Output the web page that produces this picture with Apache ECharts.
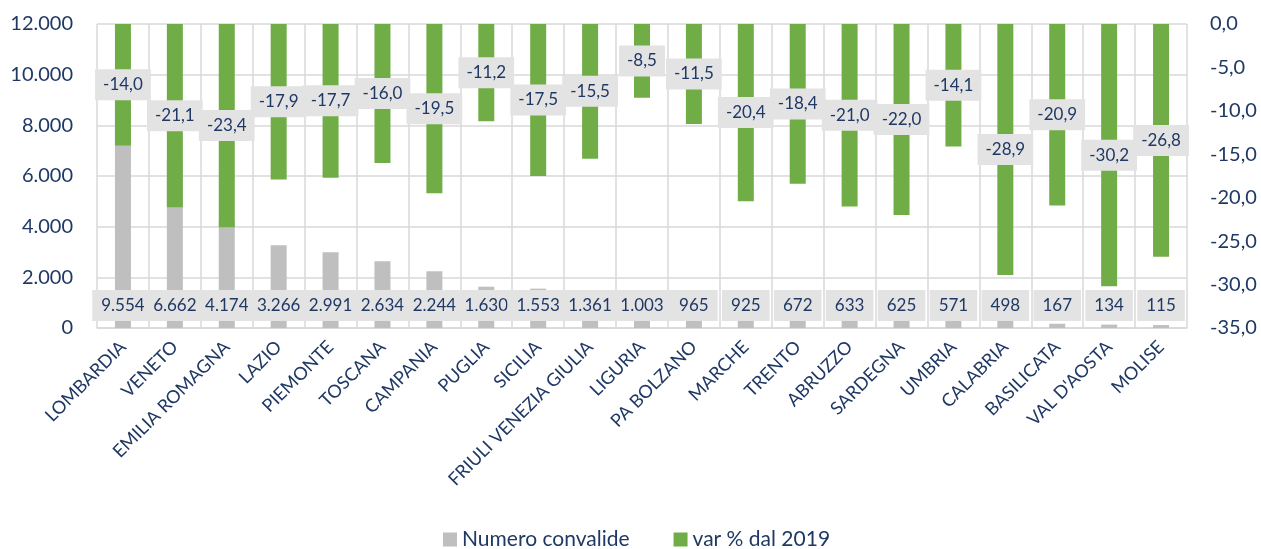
<!DOCTYPE html>
<html>
<head>
<meta charset="utf-8">
<script src="https://cdn.jsdelivr.net/npm/echarts@6/dist/echarts.min.js"></script>
<style>
html,body{margin:0;padding:0;background:#fff;}
#c{width:1261px;height:549px;}
</style>
</head>
<body>
<div id="c"></div>
<script>
const categories = ["LOMBARDIA","VENETO","EMILIA ROMAGNA","LAZIO","PIEMONTE","TOSCANA","CAMPANIA","PUGLIA","SICILIA","FRIULI VENEZIA GIULIA","LIGURIA","PA BOLZANO","MARCHE","TRENTO","ABRUZZO","SARDEGNA","UMBRIA","CALABRIA","BASILICATA","VAL D'AOSTA","MOLISE"];
const convalide = [9554,6662,4174,3266,2991,2634,2244,1630,1553,1361,1003,965,925,672,633,625,571,498,167,134,115];
const varPct = [-14.0,-21.1,-23.4,-17.9,-17.7,-16.0,-19.5,-11.2,-17.5,-15.5,-8.5,-11.5,-20.4,-18.4,-21.0,-22.0,-14.1,-28.9,-20.9,-30.2,-26.8];
const seriesNames = ["Numero convalide","var % dal 2019"];

const NAVY = '#1F3864';
const FONT = 'Lato, "Liberation Sans", sans-serif';
function thousands(v){ return String(Math.round(v)).replace(/\B(?=(\d{3})+(?!\d))/g,'.'); }
function dec1(v){ return Number(v).toFixed(1).replace('.',','); }

const chart = echarts.init(document.getElementById('c'), null, {renderer:'canvas'});
chart.setOption({
  animation:false,
  textStyle:{fontFamily:FONT},
  grid:{left:97,right:74,top:24,bottom:221,containLabel:false},
  legend:{
    data:seriesNames, left:438, top:524,
    itemWidth:14,itemHeight:14,itemGap:44,icon:'rect',
    textStyle:{color:NAVY,fontSize:21,fontFamily:FONT}
  },
  xAxis:{
    type:'category', data:categories,
    axisTick:{show:false},
    axisLine:{lineStyle:{color:'#D9D9D9',width:1.5}},
    splitLine:{show:true,interval:0,lineStyle:{color:'#D9D9D9',width:1.5}},
    axisLabel:{interval:0,rotate:45,color:NAVY,fontSize:18,margin:16,fontFamily:FONT}
  },
  yAxis:[
    {type:'value',min:0,max:12000,interval:2000,
     axisLine:{show:false},axisTick:{show:false},
     splitLine:{lineStyle:{color:'#D9D9D9',width:1.5}},
     axisLabel:{color:NAVY,fontSize:20,margin:24,formatter:thousands,fontFamily:FONT}},
    {type:'value',min:-35,max:0,interval:5,
     axisLine:{show:false},axisTick:{show:false},splitLine:{show:false},
     axisLabel:{color:NAVY,fontSize:20,margin:23,formatter:dec1,fontFamily:FONT}}
  ],
  series:[
    {name:seriesNames[0],type:'bar',yAxisIndex:0,data:convalide,barWidth:16,barGap:'-100%',
     itemStyle:{color:'#BFBFBF'},
     label:{show:true,position:'insideBottom',distance:7,color:NAVY,fontSize:17,
       backgroundColor:'#E3E3E3',padding:[7,9,7,9],formatter:p=>thousands(p.value),fontFamily:FONT}},
    {name:seriesNames[1],type:'bar',yAxisIndex:1,data:varPct,barWidth:16,barGap:'-100%',
     itemStyle:{color:'#70AD47'},
     label:{show:true,position:'inside',color:NAVY,fontSize:17,
       backgroundColor:'#E3E3E3',padding:[7,8,7,8],formatter:p=>dec1(p.value),fontFamily:FONT}}
  ]
});
</script>
</body>
</html>
